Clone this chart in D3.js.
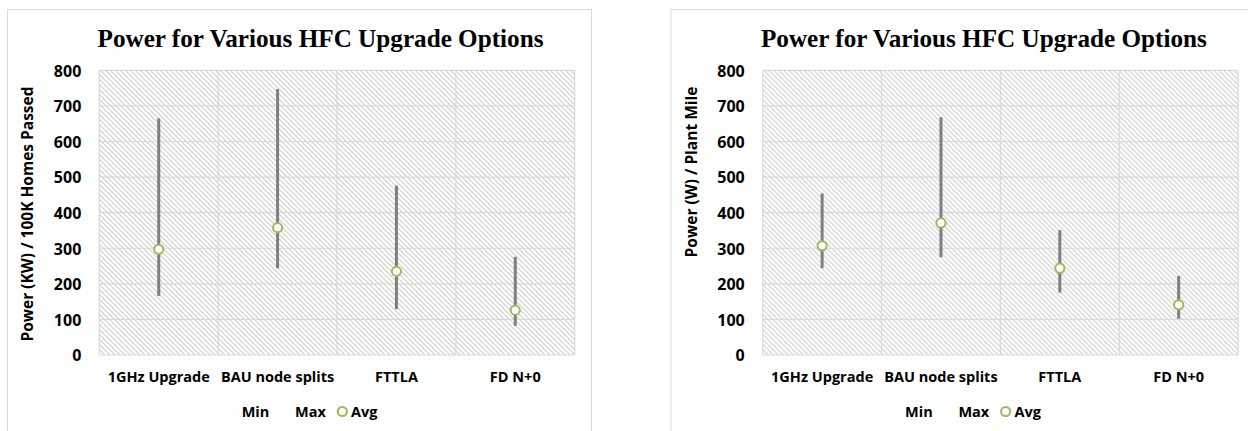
<!DOCTYPE html>
<html>
<head>
<meta charset="utf-8">
<script src="https://cdn.jsdelivr.net/npm/d3@7"></script>
<style>
  html, body { margin: 0; padding: 0; background: #fff; }
  svg { display: block; }
  .sans { font-family: "Open Sans", "Liberation Sans", sans-serif; font-weight: 700; fill: #000; }
  .serif { font-family: "Liberation Serif", "DejaVu Serif", serif; font-weight: 700; fill: #000; }
</style>
</head>
<body>
<svg id="chart" width="1248" height="431"></svg>
<script>
// Upgrade options shared by both panels
const categories = ["1GHz Upgrade", "BAU node splits", "FTTLA", "FD N+0"];
const yTicks = [0, 100, 200, 300, 400, 500, 600, 700, 800];

// Panel 1: power per 100K homes passed (KW)
const homesMin = [166, 244, 129, 82];
const homesMax = [665, 747, 476, 276];
const homesAvg = [297, 358, 235, 126];

// Panel 2: power per plant mile (W)
const mileMin = [244, 275, 175, 102];
const mileMax = [454, 668, 351, 222];
const mileAvg = [307, 371, 244, 141];

const chartTitle = "Power for Various HFC Upgrade Options";
const legendLabels = ["Min", "Max", "Avg"];

const svg = d3.select("#chart");

// diagonal hatch used for the plot background
const defs = svg.append("defs");
const pat = defs.append("pattern")
  .attr("id", "hatch")
  .attr("patternUnits", "userSpaceOnUse")
  .attr("width", 5).attr("height", 5);
pat.append("rect").attr("width", 5).attr("height", 5).attr("fill", "#fff");
pat.append("path")
  .attr("d", "M-1,-1 L6,6 M-1,4 L1,6 M4,-1 L6,1")
  .attr("stroke", "#cfcfcf").attr("stroke-width", 1.2);

function drawPanel(opts) {
  const g = svg.append("g").attr("transform", `translate(${opts.dx},0)`);
  const plot = { left: 99.3, right: 574.7, top: 70.3, bottom: 355 };

  // outer chart frame
  g.append("rect")
    .attr("x", 7.5).attr("y", 9.5)
    .attr("width", 584).attr("height", 440)
    .attr("fill", "#fff").attr("stroke", "#d9d9d9").attr("stroke-width", 1);

  const x = d3.scaleBand().domain(categories).range([plot.left, plot.right]).padding(0);
  const y = d3.scaleLinear().domain([0, 800]).range([plot.bottom, plot.top]);

  g.append("rect")
    .attr("x", plot.left).attr("y", plot.top)
    .attr("width", plot.right - plot.left).attr("height", plot.bottom - plot.top)
    .attr("fill", "url(#hatch)");

  // horizontal gridlines
  g.append("g").selectAll("line").data(yTicks).join("line")
    .attr("x1", plot.left).attr("x2", plot.right)
    .attr("y1", d => y(d)).attr("y2", d => y(d))
    .attr("stroke", "#d9d9d9").attr("stroke-width", 1.2);

  // vertical gridlines at category boundaries
  const bounds = categories.map(c => x(c)).concat([x(categories[categories.length - 1]) + x.bandwidth()]);
  g.append("g").selectAll("line").data(bounds).join("line")
    .attr("x1", d => d).attr("x2", d => d)
    .attr("y1", plot.top).attr("y2", plot.bottom)
    .attr("stroke", "#d9d9d9").attr("stroke-width", 1.2);

  // y axis labels
  const yAxis = d3.axisLeft(y).tickValues(yTicks).tickSize(0).tickPadding(18);
  const ya = g.append("g").attr("transform", `translate(${plot.left},0)`).call(yAxis);
  ya.select(".domain").remove();
  ya.selectAll("text").attr("class", "sans").style("font-size", "16px").attr("dy", "0.36em");

  // x axis labels
  const xAxis = d3.axisBottom(x).tickSize(0).tickPadding(0);
  const xa = g.append("g").attr("transform", `translate(0,${plot.bottom})`).call(xAxis);
  xa.select(".domain").remove();
  xa.selectAll("text").attr("class", "sans").style("font-size", "14.5px")
    .attr("dy", null).attr("y", 26.7);

  // min-max range lines
  const rows = categories.map((c, i) => ({ c, min: opts.min[i], max: opts.max[i], avg: opts.avg[i] }));
  g.append("g").selectAll("line").data(rows).join("line")
    .attr("x1", d => x(d.c) + x.bandwidth() / 2).attr("x2", d => x(d.c) + x.bandwidth() / 2)
    .attr("y1", d => y(d.min)).attr("y2", d => y(d.max))
    .attr("stroke", "#7f7f7f").attr("stroke-width", 3);

  // average markers
  g.append("g").selectAll("circle").data(rows).join("circle")
    .attr("cx", d => x(d.c) + x.bandwidth() / 2).attr("cy", d => y(d.avg))
    .attr("r", 4.6)
    .attr("fill", "#fff").attr("stroke", "#9bbb59").attr("stroke-width", 2);

  // title
  const t = g.append("text").attr("class", "serif")
    .attr("x", 320.5).attr("y", 46.5).attr("text-anchor", "middle")
    .style("font-size", "24px").text(chartTitle);
  const tw = t.node().getComputedTextLength();
  t.style("font-size", (24 * 446 / tw).toFixed(2) + "px");

  // y axis title
  g.append("text").attr("class", "sans")
    .attr("transform", `translate(${opts.titleX},${opts.titleY}) rotate(-90)`)
    .attr("text-anchor", "middle").attr("dy", "0.35em")
    .style("font-size", "15.5px").text(opts.yTitle);

  // legend
  const ly = 416.5;
  g.append("text").attr("class", "sans").attr("x", 241.7).attr("y", ly).style("font-size", "14.5px").text(legendLabels[0]);
  g.append("text").attr("class", "sans").attr("x", 295).attr("y", ly).style("font-size", "14.5px").text(legendLabels[1]);
  g.append("circle").attr("cx", 342.3).attr("cy", ly - 5).attr("r", 4.6)
    .attr("fill", "#fff").attr("stroke", "#9bbb59").attr("stroke-width", 2);
  g.append("text").attr("class", "sans").attr("x", 351).attr("y", ly).style("font-size", "14.5px").text(legendLabels[2]);
}

drawPanel({ dx: 0, min: homesMin, max: homesMax, avg: homesAvg,
  yTitle: "Power (KW) / 100K Homes Passed", titleX: 28, titleY: 214 });
drawPanel({ dx: 663.4, min: mileMin, max: mileMax, avg: mileAvg,
  yTitle: "Power (W) / Plant Mile", titleX: 28.3, titleY: 172 });
</script>
</body>
</html>
